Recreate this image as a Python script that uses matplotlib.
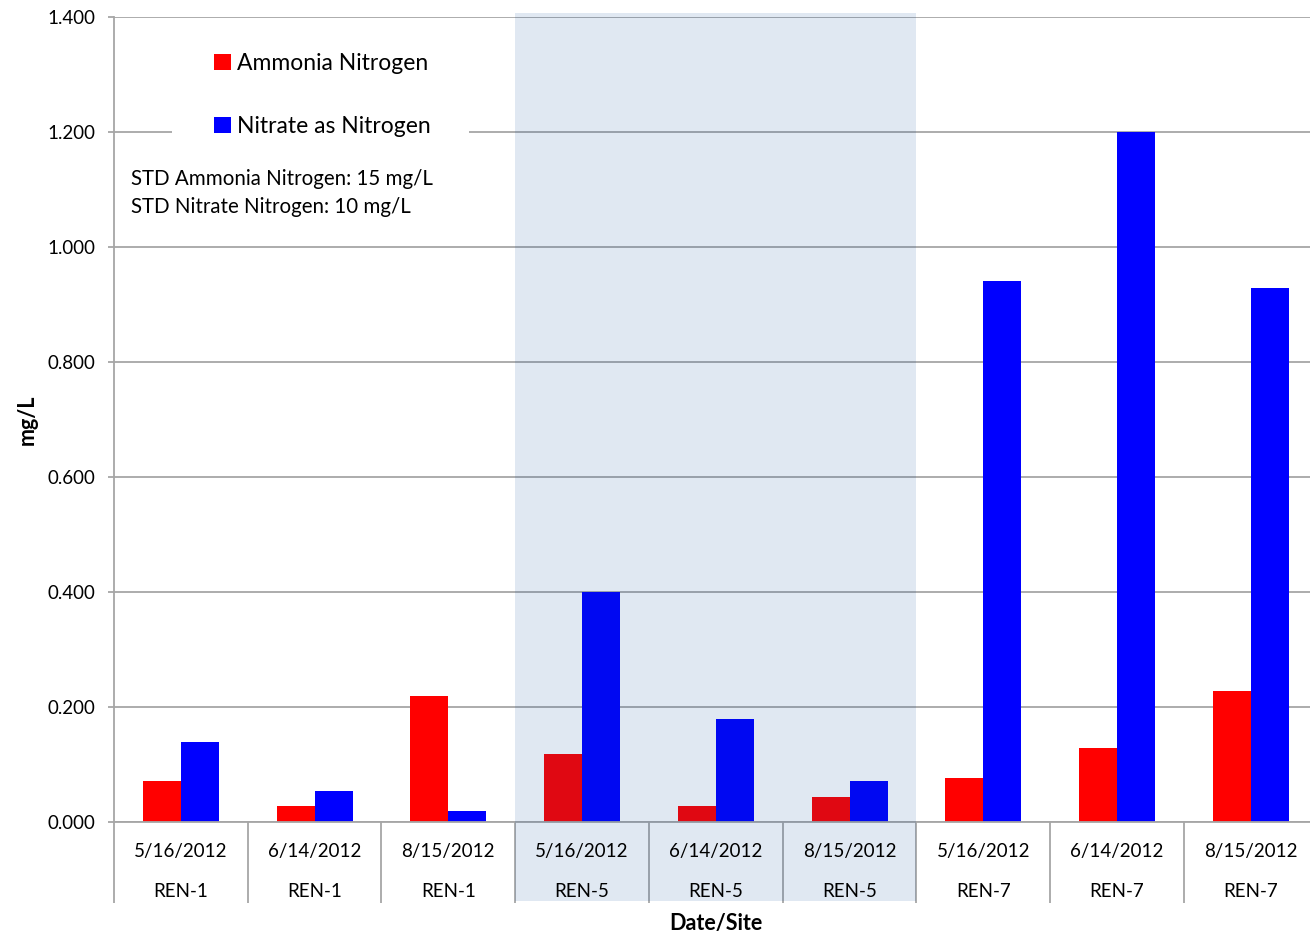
import matplotlib.pyplot as plt
import matplotlib.transforms as mtransforms
from matplotlib.patches import Rectangle
import numpy as np

plt.rcParams['font.family'] = ['Lato', 'DejaVu Sans']

dates = ['5/16/2012', '6/14/2012', '8/15/2012'] * 3
sites = ['REN-1'] * 3 + ['REN-5'] * 3 + ['REN-7'] * 3
ammonia = [0.072, 0.028, 0.219, 0.118, 0.028, 0.043, 0.076, 0.129, 0.228]
nitrate = [0.139, 0.054, 0.019, 0.400, 0.179, 0.072, 0.940, 1.200, 0.929]
series_names = ['Ammonia Nitrogen', 'Nitrate as Nitrogen']
highlight_site = 'REN-5'

grid_col = '#A6A6A6'

fig = plt.figure(figsize=(13.1, 9.38), dpi=100)
ax = fig.add_axes([0.08702, 0.12367, 0.91889, 0.85853])

x = np.arange(len(dates))
w = 0.285
red = ax.bar(x - w / 2, ammonia, w, color='#FF0000', zorder=2)
blue = ax.bar(x + w / 2, nitrate, w, color='#0000FF', zorder=2)

ax.set_xlim(-0.5, len(dates) - 0.5)
ax.set_ylim(0, 1.4)
ax.set_yticks(np.arange(0, 1.41, 0.2))
ax.set_yticklabels([f'{v:.3f}' for v in np.arange(0, 1.41, 0.2)], fontsize=13.5)
ax.yaxis.grid(True, color=grid_col, linewidth=1.3)
ax.set_axisbelow(True)
ax.tick_params(axis='y', length=4.5, color=grid_col, width=1.3, pad=9)

# category separators below the axis
ax.set_xticks(np.arange(-0.5, len(dates)), minor=True)
ax.set_xticks([])
ax.tick_params(axis='x', which='minor', length=58, color=grid_col, width=1.3)

for s in ['top', 'right']:
    ax.spines[s].set_visible(False)
for s in ['left', 'bottom']:
    ax.spines[s].set_color(grid_col)
    ax.spines[s].set_linewidth(1.3)

trans = mtransforms.blended_transform_factory(ax.transData, ax.transAxes)
for i, (d, s) in enumerate(zip(dates, sites)):
    ax.text(i, -0.0365, d, transform=trans, ha='center', va='center', fontsize=13.5, zorder=5)
    ax.text(i, -0.0865, s, transform=trans, ha='center', va='center', fontsize=13.5, zorder=5)

# shaded band over the REN-5 site
idx = [i for i, s in enumerate(sites) if s == highlight_site]
band = Rectangle((idx[0] - 0.5, -0.0977), len(idx), 1.1023, transform=trans,
                 facecolor='#05489B', alpha=0.12, edgecolor='none',
                 clip_on=False, zorder=3)
ax.add_patch(band)

fig.text(0.5 * (114 + 1317.75) / 1310, 1 - 923 / 938, 'Date/Site',
         fontsize=15.5, fontweight='bold', ha='center', va='center')
ax.set_ylabel('mg/L', fontsize=15.5, fontweight='bold')
ax.yaxis.set_label_coords(-0.063, 0.5)

# white box behind the legend
ax.add_patch(Rectangle((172 / 1310, 1 - 140 / 938), 297 / 1310, 118 / 938,
                       transform=fig.transFigure, facecolor='white',
                       edgecolor='none', clip_on=False, zorder=1))
leg = ax.legend([red, blue], series_names, loc='upper left', frameon=False,
                bbox_to_anchor=(203 / 1310, 1 - 42 / 938), bbox_transform=fig.transFigure,
                fontsize=16.5, handlelength=0.7, handleheight=0.7, handletextpad=0.3,
                labelspacing=1.8, borderpad=0)
leg.set_zorder(6)

fig.text(131 / 1310, 1 - 179 / 938, 'STD Ammonia Nitrogen: 15 mg/L', fontsize=14.8, va='center')
fig.text(131 / 1310, 1 - 207 / 938, 'STD Nitrate Nitrogen: 10 mg/L', fontsize=14.8, va='center')

fig.savefig('out.png', dpi=100)
